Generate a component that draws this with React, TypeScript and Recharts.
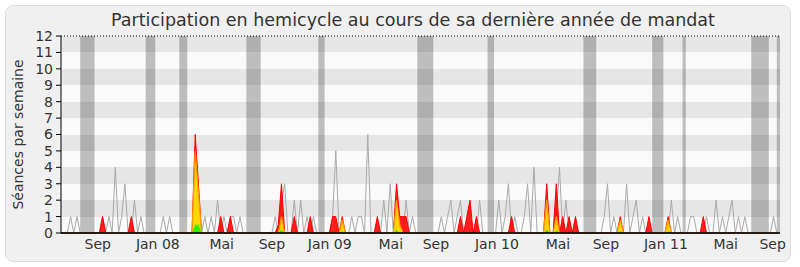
import { ComposedChart, Area, XAxis, YAxis, CartesianGrid, ReferenceArea, ReferenceLine } from 'recharts';

const FONT = '"DejaVu Sans", Verdana, sans-serif';

// one value per week, from mid-June 2007 to mid-September 2011
const medianSessions = [
  0, 0, 0, 1, 0, 1, 0, 0, 0, 0, 0, 0, 0, 1, 0, 1, 0, 4, 0, 1, 3, 0, 0, 2, 0,
  1, 0, 0, 0, 0, 0, 0, 1, 0, 1, 0, 0, 0, 0, 0, 0, 0, 3, 0, 0, 1, 0, 1, 0, 2,
  0, 1, 0, 1, 1, 0, 1, 0, 0, 0, 0, 0, 0, 0, 0, 0, 0, 1, 0, 2, 3, 0, 0, 2, 0,
  2, 0, 1, 0, 1, 0, 0, 0, 0, 0, 1, 5, 0, 0, 0, 0, 1, 0, 1, 1, 0, 6, 0, 0, 0,
  0, 2, 0, 3, 0, 2, 0, 0, 2, 0, 1, 0, 0, 0, 0, 0, 0, 0, 0, 1, 0, 1, 2, 0, 1,
  2, 0, 0, 0, 0, 0, 2, 0, 0, 0, 0, 0, 2, 0, 1, 3, 0, 1, 0, 0, 1, 3, 0, 4, 0,
  0, 0, 1, 0, 0, 1, 4, 0, 2, 0, 0, 0, 0, 0, 0, 0, 0, 0, 0, 0, 1, 3, 0, 1, 0,
  0, 0, 3, 0, 1, 2, 0, 1, 0, 0, 0, 0, 0, 0, 0, 0, 2, 0, 1, 0, 0, 0, 1, 1, 0,
  0, 0, 1, 0, 0, 2, 0, 1, 0, 1, 2, 0, 1, 0, 1, 0, 0, 0, 0, 0, 0, 0, 0, 1, 0,
];

const presence = [
  0, 0, 0, 0, 0, 0, 0, 0, 0, 0, 0, 0, 0, 1, 0, 0, 0, 0, 0, 0, 0, 0, 1, 0, 0,
  0, 0, 0, 0, 0, 0, 0, 0, 0, 0, 0, 0, 0, 0, 0, 0, 0, 6, 3, 0, 0, 0, 0, 0, 0,
  1, 0, 0, 1, 0, 0, 0, 0, 0, 0, 0, 0, 0, 0, 0, 0, 0, 0, 0.5, 3, 0, 0, 0, 1, 0,
  0, 0, 0, 1, 0, 0, 0, 0, 0, 0, 1, 1, 0, 1, 0, 0, 0, 0, 0, 0, 0, 0, 0, 0, 1,
  0, 0, 0, 0, 0, 3, 1, 1, 1, 0, 0, 0, 0, 0, 0, 0, 0, 0, 0, 0, 0, 0, 0, 0, 0,
  1, 0, 1, 2, 0, 1, 0, 0, 0, 0, 0, 0, 0, 0, 0, 0, 1, 0, 0, 0, 0, 0, 0, 0, 0,
  0, 0, 3, 0, 0, 3, 0, 1, 0, 1, 0, 1, 0, 0, 0, 0, 0, 0, 0, 0, 0, 0, 0, 0, 0,
  1, 0, 0, 0, 0, 0, 0, 0, 0, 1, 0, 0, 0, 0, 0, 1, 0, 0, 0, 0, 0, 0, 0, 0, 0,
  0, 1, 0, 0, 0, 0, 0, 0, 0, 0, 0, 0, 0, 0, 0, 0, 0, 0, 0, 0, 0, 0, 0, 0, 0,
];

const participation = [
  0, 0, 0, 0, 0, 0, 0, 0, 0, 0, 0, 0, 0, 0, 0, 0, 0, 0, 0, 0, 0, 0, 0, 0, 0,
  0, 0, 0, 0, 0, 0, 0, 0, 0, 0, 0, 0, 0, 0, 0, 0, 0, 5, 2.5, 0, 0, 0, 0, 0, 0,
  0, 0, 0, 0, 0, 0, 0, 0, 0, 0, 0, 0, 0, 0, 0, 0, 0, 0, 0, 1, 0, 0, 0, 0, 0,
  0, 0, 0, 0, 0, 0, 0, 0, 0, 0, 0, 0, 0, 0.8, 0, 0, 0, 0, 0, 0, 0, 0, 0, 0, 0,
  0, 0, 0, 0, 0, 2, 0.5, 0, 0, 0, 0, 0, 0, 0, 0, 0, 0, 0, 0, 0, 0, 0, 0, 0, 0,
  0, 0, 0, 0, 0, 0, 0, 0, 0, 0, 0, 0, 0, 0, 0, 0, 0, 0, 0, 0, 0, 0, 0, 0, 0,
  0, 0, 2, 0, 0, 1, 0, 0, 0, 0, 0, 0, 0, 0, 0, 0, 0, 0, 0, 0, 0, 0, 0, 0, 0,
  0.8, 0, 0, 0, 0, 0, 0, 0, 0, 0, 0, 0, 0, 0, 0, 0.8, 0, 0, 0, 0, 0, 0, 0, 0, 0,
  0, 0, 0, 0, 0, 0, 0, 0, 0, 0, 0, 0, 0, 0, 0, 0, 0, 0, 0, 0, 0, 0, 0, 0, 0,
];

const questions = [
  0, 0, 0, 0, 0, 0, 0, 0, 0, 0, 0, 0, 0, 0, 0, 0, 0, 0, 0, 0, 0, 0, 0, 0, 0,
  0, 0, 0, 0, 0, 0, 0, 0, 0, 0, 0, 0, 0, 0, 0, 0, 0, 0.5, 0.5, 0, 0, 0, 0, 0, 0,
  0, 0, 0, 0, 0, 0, 0, 0, 0, 0, 0, 0, 0, 0, 0, 0, 0, 0, 0, 0.2, 0, 0, 0, 0, 0,
  0, 0, 0, 0, 0, 0, 0, 0, 0, 0, 0, 0, 0, 0.1, 0, 0, 0, 0, 0, 0, 0, 0, 0, 0, 0,
  0, 0, 0, 0, 0, 0.2, 0, 0, 0, 0, 0, 0, 0, 0, 0, 0, 0, 0, 0, 0, 0, 0, 0, 0, 0,
  0, 0, 0, 0, 0, 0, 0, 0, 0, 0, 0, 0, 0, 0, 0, 0, 0, 0, 0, 0, 0, 0, 0, 0, 0,
  0, 0, 0.2, 0, 0, 0.15, 0, 0, 0, 0, 0, 0, 0, 0, 0, 0, 0, 0, 0, 0, 0, 0, 0, 0, 0,
  0.1, 0, 0, 0, 0, 0, 0, 0, 0, 0, 0, 0, 0, 0, 0, 0.1, 0, 0, 0, 0, 0, 0, 0, 0, 0,
  0, 0, 0, 0, 0, 0, 0, 0, 0, 0, 0, 0, 0, 0, 0, 0, 0, 0, 0, 0, 0, 0, 0, 0, 0,
];

// parliamentary breaks, in weeks
const breakStart = [6, 26.5, 37, 58, 80.5, 111.5, 133.5, 163.5, 185, 194.5, 216, 224];
const breakEnd = [10.5, 29.5, 39.5, 62.5, 82.5, 116.5, 135.5, 167.5, 188.5, 195.5, 221.5, 225];

const monthTicks = [11.5, 30.3, 50.3, 66, 84.1, 103.2, 117.3, 136.4, 155.5, 170.5, 189.3, 208, 222.7];
const monthLabels = ['Sep', 'Jan 08', 'Mai', 'Sep', 'Jan 09', 'Mai', 'Sep', 'Jan 10', 'Mai', 'Sep', 'Jan 11', 'Mai', 'Sep'];
const yTicks = [0, 1, 2, 3, 4, 5, 6, 7, 8, 9, 10, 11, 12];

const rows = medianSessions.map((m, i) => ({
  week: i,
  median: m,
  presence: presence[i],
  participation: participation[i],
  questions: questions[i],
}));

function YTitle(props: any) {
  const vb = props.viewBox || { x: 0, y: 36, width: 61, height: 197 };
  const cx = vb.x + 18;
  const cy = vb.y + vb.height / 2;
  return (
    <text x={cx} y={cy} transform={`rotate(-90 ${cx} ${cy})`} textAnchor="middle" dominantBaseline="central"
      fontSize={14} fill="#333" fontFamily={FONT}>
      Séances par semaine
    </text>
  );
}

export default function App() {
  const tickStyle = { fill: '#333', fontSize: 14, fontFamily: FONT };
  return (
    <div style={{ position: 'absolute', left: 0, top: 0, width: 800, height: 267, background: '#fff' }}>
      <div style={{ position: 'absolute', left: 5, top: 5, width: 786, height: 257, boxSizing: 'border-box',
        background: '#f0f0f0', border: '1px solid #dcdcdc', borderRadius: 8 }} />
      <div style={{ position: 'absolute', left: 0, top: 10, width: 826, textAlign: 'center', fontFamily: FONT,
        fontSize: 17.5, lineHeight: '20px', color: '#333', whiteSpace: 'nowrap' }}>
        Participation en hemicycle au cours de sa dernière année de mandat
      </div>
      <div style={{ position: 'absolute', left: 0, top: 0 }}>
        <ComposedChart width={800} height={267} data={rows} margin={{ top: 36, right: 20, bottom: 4, left: 0 }}
          style={{ fontFamily: FONT }}>
          <CartesianGrid vertical={false} stroke="none" horizontalFill={['#e6e6e6', '#fafafa']} />
          {breakStart.map((s, i) => (
            <ReferenceArea key={i} x1={s} x2={breakEnd[i]} y1={0} y2={12} fill="#000" fillOpacity={0.24} stroke="none" />
          ))}
          <ReferenceLine y={12} stroke="#000" strokeDasharray="1 2" />
          <XAxis dataKey="week" type="number" domain={[0, 225]} ticks={monthTicks} interval={0} height={30}
            tickFormatter={(v: number) => monthLabels[monthTicks.indexOf(v)]} tickLine={false} tickSize={6}
            tickMargin={0} axisLine={{ stroke: '#000' }} tick={tickStyle} />
          <YAxis domain={[0, 12]} ticks={yTicks} interval={0} width={61} tickSize={5} tickMargin={3}
            axisLine={{ stroke: '#000' }} tickLine={{ stroke: '#000' }} tick={tickStyle} label={YTitle} />
          <Area type="linear" dataKey="median" stroke="#aaaaaa" strokeWidth={1} fill="none" dot={false}
            activeDot={false} isAnimationActive={false} />
          <Area type="linear" dataKey="presence" stroke="#ff0000" strokeWidth={1} fill="#ff0000" fillOpacity={0.88}
            dot={false} activeDot={false} isAnimationActive={false} />
          <Area type="linear" dataKey="participation" stroke="#ff9900" strokeWidth={1.2} fill="#ffd700" fillOpacity={1}
            dot={false} activeDot={false} isAnimationActive={false} />
          <Area type="linear" dataKey="questions" stroke="none" fill="#33ee00" fillOpacity={1}
            dot={false} activeDot={false} isAnimationActive={false} />
          <ReferenceLine y={0} stroke="#1a1a1a" strokeWidth={1.5} />
        </ComposedChart>
      </div>
    </div>
  );
}
